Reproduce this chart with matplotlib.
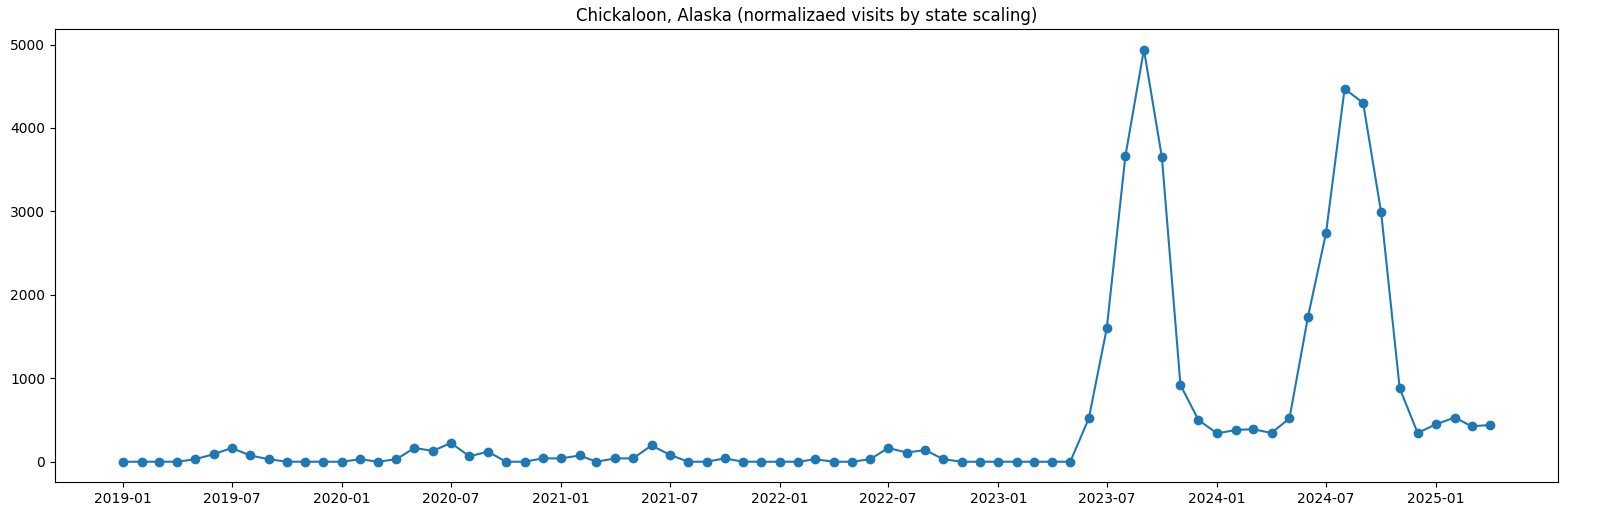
import numpy as np
import pandas as pd
import matplotlib
matplotlib.use("Agg")
import matplotlib.pyplot as plt

# Monthly visits, 2019-01 .. 2025-04
months = pd.date_range("2019-01-01", "2025-04-01", freq="MS")
visits = [
    0, 0, 0, 0, 30, 90, 165, 75, 30, 0, 0, 0,            # 2019
    0, 30, 0, 30, 165, 130, 225, 65, 120, 0, 0, 40,      # 2020
    40, 75, 0, 40, 40, 195, 85, 0, 0, 40, 0, 0,          # 2021
    0, 0, 30, 0, 0, 30, 165, 110, 140, 30, 0, 0,         # 2022
    0, 0, 0, 0, 0, 520, 1600, 3660, 4940, 3650, 920, 500,  # 2023
    340, 380, 390, 345, 520, 1740, 2740, 4470, 4300, 2990, 880, 345,  # 2024
    450, 530, 425, 440,                                  # 2025
]

fig, ax = plt.subplots(figsize=(16.15, 5.26), dpi=100)
ax.plot(months, visits, marker='o')
ax.set_title('Chickaloon, Alaska (normalizaed visits by state scaling)')
ticks = pd.date_range("2019-01-01", "2025-01-01", freq="6MS")
ax.set_xticks(ticks)
ax.set_xticklabels([t.strftime('%Y-%m') for t in ticks])
fig.subplots_adjust(left=0.034, right=0.965, top=0.945, bottom=0.083)
fig.savefig('out.png')
